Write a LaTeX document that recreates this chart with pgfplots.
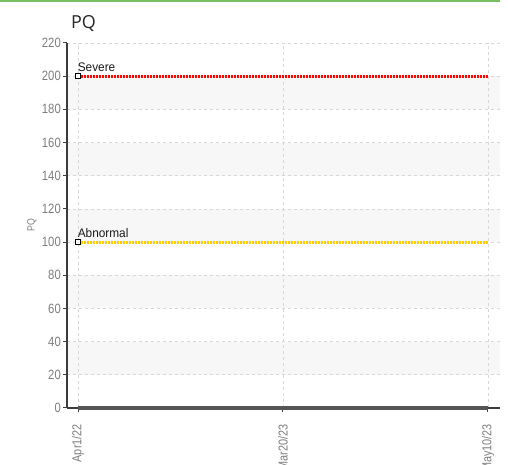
\documentclass[border=0pt]{standalone}
\usepackage{fontspec}
\setmainfont{Liberation Sans}[FakeStretch=0.84]
\newfontfamily\titlefont{Open Sans}
\newfontfamily\lblfont{Liberation Sans}[FakeStretch=0.95]
\usepackage{pgfplots}
\pgfplotsset{compat=1.18}
\definecolor{tickgray}{RGB}{125,125,125}
\definecolor{gridgray}{RGB}{215,215,215}
\definecolor{bandgray}{RGB}{247,247,247}
\definecolor{axisdark}{RGB}{60,60,60}
\definecolor{zeroline}{RGB}{85,85,85}
\definecolor{sevred}{RGB}{255,0,0}
\definecolor{abngold}{RGB}{255,204,0}
\definecolor{topgreen}{RGB}{120,190,100}
\begin{document}
\begin{tikzpicture}
\begin{axis}[
  set layers=standard,
  at={(67bp,57bp)}, anchor=south west,
  scale only axis, width=433bp, height=365bp,
  xmin=-0.0537, xmax=2.059, ymin=0, ymax=220,
  axis lines*=left,
  axis line style={axisdark, line width=1.2bp},
  xtick={0,1,2}, xticklabels={Apr1/22,Mar20/23,May10/23},
  ytick={0,20,...,220},
  /pgf/number format/assume math mode=true,
  tick align=outside, major tick length=4bp,
  tick style={axisdark, line width=1bp},
  x tick label style={rotate=90, anchor=east, font=\fontsize{13}{13}\selectfont, text=tickgray, inner sep=0pt, xshift=-12bp},
  y tick label style={font=\fontsize{13.5}{14}\selectfont, text=tickgray, inner sep=2bp},
  ylabel={PQ}, ylabel style={font=\fontsize{10.5}{11}\selectfont, text=tickgray, at={(axis description cs:-0.081,0.5)}, anchor=center},
  grid=major, major grid style={gridgray, dashed, line width=0.8bp},
  clip=false,
]
\addplot[on layer=axis background, fill=bandgray, draw=none] coordinates {(-0.0537,20) (2.059,20) (2.059,40) (-0.0537,40)} -- cycle;
\addplot[on layer=axis background, fill=bandgray, draw=none] coordinates {(-0.0537,60) (2.059,60) (2.059,80) (-0.0537,80)} -- cycle;
\addplot[on layer=axis background, fill=bandgray, draw=none] coordinates {(-0.0537,100) (2.059,100) (2.059,120) (-0.0537,120)} -- cycle;
\addplot[on layer=axis background, fill=bandgray, draw=none] coordinates {(-0.0537,140) (2.059,140) (2.059,160) (-0.0537,160)} -- cycle;
\addplot[on layer=axis background, fill=bandgray, draw=none] coordinates {(-0.0537,180) (2.059,180) (2.059,200) (-0.0537,200)} -- cycle;
\addplot[zeroline, line width=4bp] coordinates {(0,0) (1,0) (2,0)};
\addplot[sevred, line width=3bp, dash pattern=on 2bp off 1bp] coordinates {(0,200) (2,200)};
\addplot[abngold, line width=3bp, dash pattern=on 2bp off 1bp] coordinates {(0,100) (2,100)};
\addplot[only marks, mark=square*, mark size=2.8bp, mark options={fill=white, draw=black, line width=1bp}] coordinates {(0,200) (0,100)};
\node[anchor=base west, inner sep=0pt, font=\lblfont\fontsize{12.5}{13}\selectfont, text=black!90] at (axis cs:-0.002,102.8) {Abnormal};
\node[anchor=base west, inner sep=0pt, font=\lblfont\fontsize{12.5}{13}\selectfont, text=black!90] at (axis cs:-0.002,202.8) {Severe};
\end{axis}
\fill[topgreen] (0bp,462.5bp) rectangle (500bp,465bp);
\node[anchor=base west, font=\titlefont\fontsize{18}{18}\selectfont, text=black!85, inner sep=0pt] at (71bp,436bp) {PQ};
\pgfresetboundingbox
\path[use as bounding box] (0bp,0bp) rectangle (508bp,465bp);
\end{tikzpicture}
\end{document}
